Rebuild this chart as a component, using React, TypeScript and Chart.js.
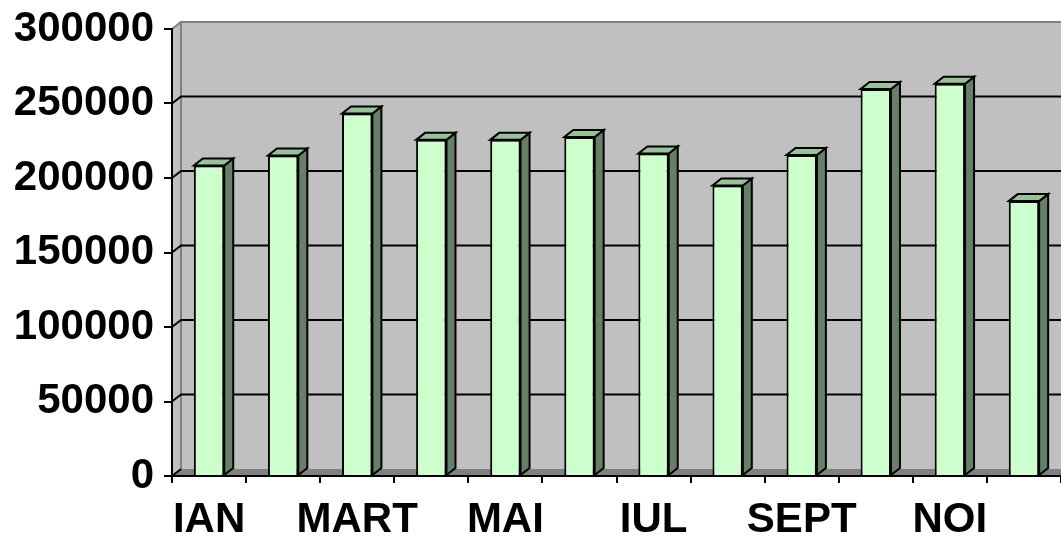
import React, { useEffect, useRef } from "react";
import { Chart, registerables } from "chart.js";

Chart.register(...registerables);

const months = ["IAN", "FEB", "MART", "APR", "MAI", "IUN", "IUL", "AUG", "SEPT", "OCT", "NOI", "DEC"];
const values = [208400, 215100, 243300, 225600, 225600, 227500, 216500, 195000, 215400, 259700, 263300, 184500];
const yMin = 0;
const yMax = 300000;
const yStep = 50000;

const DX = 9;
const DY = -7;
const FRONT = "#CCFFCC";
const SIDE = "#668066";
const TOP = "#99C299";
const WALL = "#C0C0C0";
const FLOOR = "#808080";
const FONT = '"Liberation Sans", Arial, sans-serif';

const wallPlugin = {
  id: "wall3d",
  beforeDraw(chart: any) {
    const { ctx, chartArea: a, scales } = chart;
    const ys = scales.y;
    const { left, right, top, bottom } = a;
    ctx.save();
    // back wall
    ctx.fillStyle = WALL;
    ctx.fillRect(left + DX, top + DY, right - left + 20, bottom - top);
    // side wall
    ctx.beginPath();
    ctx.moveTo(left, top);
    ctx.lineTo(left + DX, top + DY);
    ctx.lineTo(left + DX, bottom + DY);
    ctx.lineTo(left, bottom);
    ctx.closePath();
    ctx.fill();
    // floor
    ctx.fillStyle = FLOOR;
    ctx.beginPath();
    ctx.moveTo(left, bottom);
    ctx.lineTo(left + DX, bottom + DY);
    ctx.lineTo(right + DX + 20, bottom + DY);
    ctx.lineTo(right + 20, bottom);
    ctx.closePath();
    ctx.fill();
    // wall borders (gray)
    ctx.strokeStyle = "#808080";
    ctx.lineWidth = 2;
    ctx.beginPath();
    ctx.moveTo(left, top);
    ctx.lineTo(left + DX, top + DY);
    ctx.lineTo(right + DX + 20, top + DY);
    ctx.moveTo(left + DX, top + DY);
    ctx.lineTo(left + DX, bottom + DY);
    ctx.stroke();
    // gridlines
    ctx.strokeStyle = "#000";
    ctx.lineWidth = 2;
    ys.ticks.forEach((t: any) => {
      if (t.value >= ys.max) return;
      const py = ys.getPixelForValue(t.value);
      ctx.beginPath();
      ctx.moveTo(left, py);
      ctx.lineTo(left + DX, py + DY);
      if (t.value > ys.min) ctx.lineTo(right + DX + 20, py + DY);
      ctx.stroke();
    });
    ctx.restore();
  },
  afterDatasetsDraw(chart: any) {
    const { ctx } = chart;
    const meta = chart.getDatasetMeta(0);
    ctx.save();
    ctx.strokeStyle = "#000";
    ctx.lineWidth = 2;
    ctx.lineJoin = "miter";
    meta.data.forEach((bar: any) => {
      const { x, y, base, width } = bar.getProps(["x", "y", "base", "width"], true);
      const L = x - width / 2;
      const R = x + width / 2;
      // side
      ctx.fillStyle = SIDE;
      ctx.beginPath();
      ctx.moveTo(R, y);
      ctx.lineTo(R + DX, y + DY);
      ctx.lineTo(R + DX, base + DY);
      ctx.lineTo(R, base);
      ctx.closePath();
      ctx.fill();
      ctx.stroke();
      // top
      ctx.fillStyle = TOP;
      ctx.beginPath();
      ctx.moveTo(L, y);
      ctx.lineTo(L + DX, y + DY);
      ctx.lineTo(R + DX, y + DY);
      ctx.lineTo(R, y);
      ctx.closePath();
      ctx.fill();
      ctx.stroke();
    });
    ctx.restore();
  },
};

export default function App() {
  const ref = useRef<HTMLCanvasElement | null>(null);
  useEffect(() => {
    if (!ref.current) return;
    const chart = new Chart(ref.current, {
      type: "bar",
      data: {
        labels: months,
        datasets: [
          {
            data: values,
            backgroundColor: FRONT,
            borderColor: "#000",
            borderWidth: 2,
            barPercentage: 0.41,
            categoryPercentage: 1,
          },
        ],
      },
      options: {
        responsive: false,
        animation: false,
        layout: { padding: { top: 29, left: 0, right: 0, bottom: 0 } },
        plugins: { legend: { display: false }, tooltip: { enabled: false }, title: { display: false } },
        scales: {
          x: {
            offset: true,
            grid: { drawOnChartArea: false, drawTicks: true, tickLength: 7, color: "#000", lineWidth: 2, offset: true },
            border: { display: true, color: "#000", width: 2 },
            ticks: {
              autoSkip: false,
              maxRotation: 0,
              minRotation: 0,
              padding: 12,
              color: "#000",
              font: { family: FONT, size: 42, weight: "bold" },
              callback: (_v: any, i: number) => (i % 2 === 0 ? months[i] : ""),
            },
            afterFit: (s: any) => {
              s.height = 61;
              s.paddingLeft = 0;
              s.paddingRight = 0;
            },
          },
          y: {
            min: yMin,
            max: yMax,
            grid: { drawOnChartArea: false, drawTicks: true, tickLength: 8, color: "#000", lineWidth: 2 },
            border: { display: true, color: "#000", width: 2 },
            ticks: {
              stepSize: yStep,
              padding: 10,
              color: "#000",
              font: { family: FONT, size: 42, weight: "bold" },
              callback: (v: any) => String(v),
            },
            afterFit: (s: any) => {
              s.width = 172;
              s.paddingTop = 0;
              s.paddingBottom = 0;
            },
          },
        },
      },
      plugins: [wallPlugin],
    });
    return () => chart.destroy();
  }, []);
  return (
    <div style={{ position: "absolute", left: 0, top: 0, width: 1061, height: 537, background: "#fff" }}>
      <canvas ref={ref} width={1061} height={537} style={{ display: "block" }} />
    </div>
  );
}
